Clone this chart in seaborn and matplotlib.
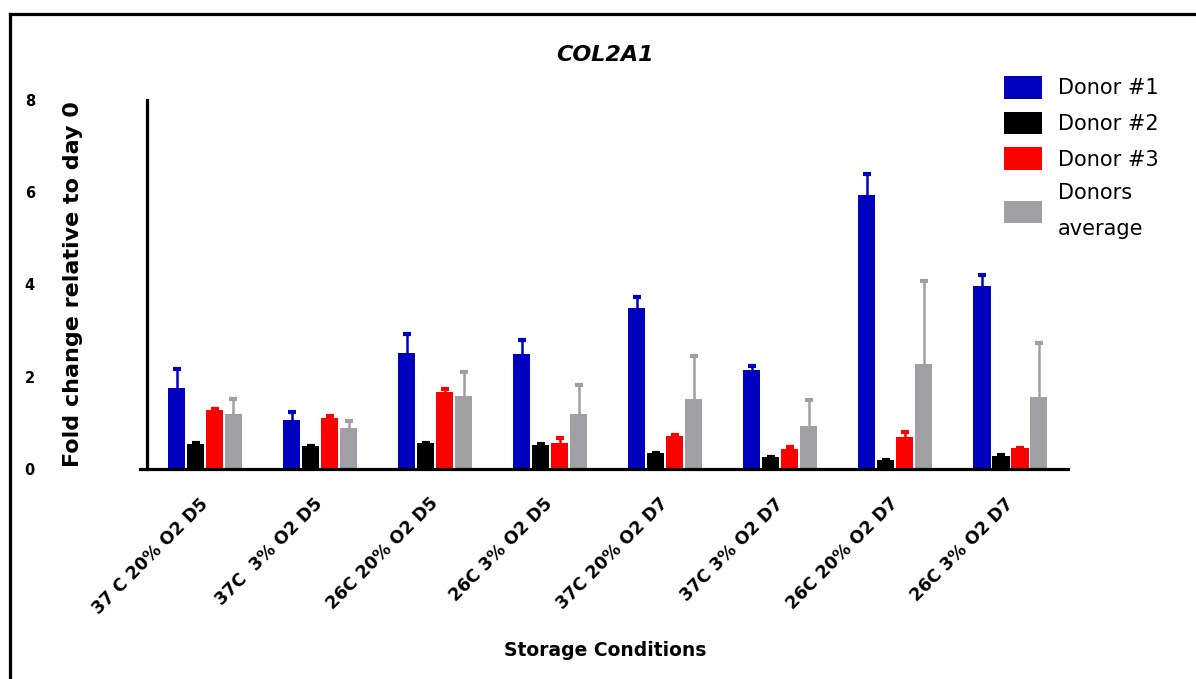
import numpy as np
import pandas as pd
import matplotlib
matplotlib.use("Agg")
import matplotlib.pyplot as plt
from matplotlib.lines import Line2D
import seaborn as sns

# Storage conditions (x categories)
conditions = ["37 C 20% O2 D5", "37C  3% O2 D5", "26C 20% O2 D5", "26C 3% O2 D5",
              "37C 20% O2 D7", "37C 3% O2 D7", "26C 20% O2 D7", "26C 3% O2 D7"]

# Series names
series_names = ["Donor #1", "Donor #2", "Donor #3", "Donors\naverage"]

# Fold change values per series
donor1 = [1.75, 1.06, 2.51, 2.49, 3.48, 2.14, 5.93, 3.96]
donor2 = [0.54, 0.49, 0.56, 0.52, 0.34, 0.25, 0.19, 0.28]
donor3 = [1.28, 1.10, 1.68, 0.57, 0.72, 0.44, 0.69, 0.45]
average = [1.19, 0.88, 1.58, 1.19, 1.51, 0.93, 2.27, 1.56]

# Upper error (SD) per series
donor1_err = [0.41, 0.17, 0.42, 0.31, 0.24, 0.10, 0.47, 0.24]
donor2_err = [0.02, 0.01, 0.01, 0.02, 0.01, 0.01, 0.01, 0.02]
donor3_err = [0.01, 0.05, 0.06, 0.10, 0.01, 0.03, 0.11, 0.01]
average_err = [0.32, 0.16, 0.52, 0.63, 0.94, 0.57, 1.80, 1.17]

y_ticks = [0, 2, 4, 6, 8]
colors = ["#0000BF", "#000000", "#FF0000", "#A0A0A4"]

values = [donor1, donor2, donor3, average]
errors = [donor1_err, donor2_err, donor3_err, average_err]

df = pd.DataFrame({
    "condition": np.tile(conditions, len(series_names)),
    "series": np.repeat(series_names, len(conditions)),
    "value": np.concatenate(values),
})

sns.set_theme(style="white")
plt.rcParams["font.family"] = ["DejaVu Sans"]
plt.rcParams["text.color"] = "black"
plt.rcParams["axes.labelcolor"] = "black"
plt.rcParams["xtick.color"] = "black"
plt.rcParams["ytick.color"] = "black"

W, H = 1196, 679
fig = plt.figure(figsize=(W / 100, H / 100), dpi=100)
ax = fig.add_axes([140 / W, 1 - 469 / H, 928 / W, 369 / H])

sns.barplot(data=df, x="condition", y="value", hue="series",
            order=conditions, hue_order=series_names,
            palette=colors, width=0.66, gap=0.1, errorbar=None,
            saturation=1, edgecolor="none", linewidth=0, ax=ax)

# Upper-only error bars drawn at each bar's centre
for cont, err, col in zip(ax.containers, errors, colors):
    xs = [p.get_x() + p.get_width() / 2 for p in cont.patches]
    ys = [p.get_height() for p in cont.patches]
    _, caps, _ = ax.errorbar(xs, ys, yerr=[np.zeros(len(err)), err], fmt="none",
                             ecolor=col, elinewidth=1.8, capsize=3, capthick=3,
                             zorder=3)
    caps[0].remove()  # no cap at the bar top

ax.set_xlim(-0.565, 7.5)
ax.set_ylim(0, 8)
ax.set_yticks(y_ticks)
ax.set_yticklabels([str(t) for t in y_ticks])

for s in ["top", "right"]:
    ax.spines[s].set_visible(False)
ax.spines["left"].set_position(("data", -0.5))
for s in ["left", "bottom"]:
    ax.spines[s].set_linewidth(2.3)
    ax.spines[s].set_color("black")

ax.tick_params(axis="y", direction="out", length=6, width=2.2, pad=75,
               labelsize=10.5, colors="black")
ax.tick_params(axis="x", direction="out", length=6, width=2.2, pad=17,
               labelsize=12.5, colors="black")
for lbl in ax.get_yticklabels():
    lbl.set_fontweight("bold")
for lbl in ax.get_xticklabels():
    lbl.set_fontweight("bold")
    lbl.set_rotation(45)
    lbl.set_ha("right")
    lbl.set_va("center")
    lbl.set_rotation_mode("anchor")

ax.set_ylabel("Fold change relative to day 0", fontsize=16, fontweight="bold")
ax.yaxis.set_label_coords(-0.061, 0.5)
ax.set_xlabel("Storage Conditions", fontsize=13.5, fontweight="bold")
ax.xaxis.set_label_coords(0.501, -0.466)

ax.text(0.501, 1.122, "COL2A1", transform=ax.transAxes, ha="center", va="center",
        fontsize=16, fontweight="bold", fontstyle="italic")

leg = ax.legend(loc="upper left", bbox_to_anchor=(1004 / W, 1 - 76 / H),
                bbox_transform=fig.transFigure, frameon=False,
                fontsize=15, handlelength=1.8, handleheight=1.3,
                handletextpad=0.8, labelspacing=0.62, borderpad=0,
                borderaxespad=0)
for t in leg.get_texts():
    t.set_linespacing(2.0)
    t.set_color("black")

# Outer frame on the left and top edges
fig.add_artist(Line2D([9.5 / W, 9.5 / W], [0, 1 - 13.5 / H], transform=fig.transFigure,
                      color="black", linewidth=2.3, solid_capstyle="projecting"))
fig.add_artist(Line2D([9.5 / W, 1], [1 - 13.5 / H, 1 - 13.5 / H], transform=fig.transFigure,
                      color="black", linewidth=2.3, solid_capstyle="projecting"))

fig.savefig("out.png", dpi=100, facecolor="white")
